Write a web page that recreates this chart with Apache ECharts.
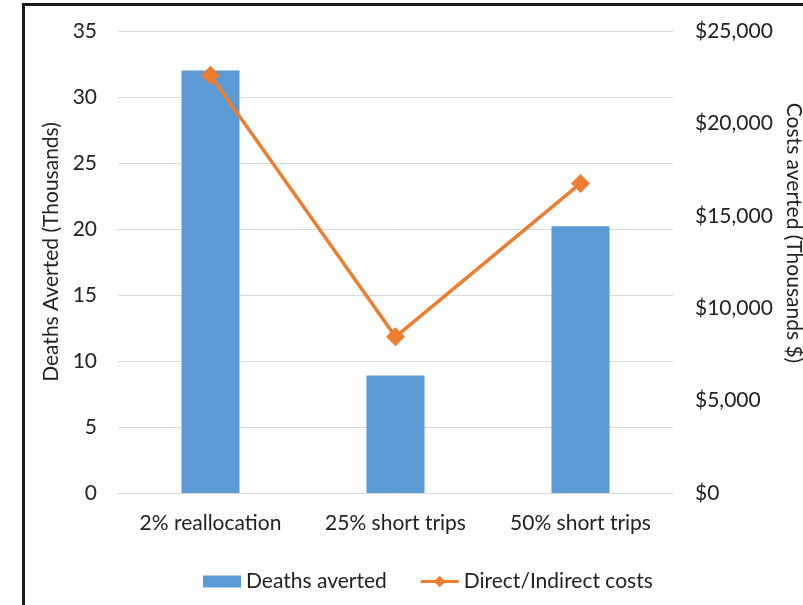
<!DOCTYPE html>
<html>
<head>
<meta charset="utf-8">
<script src="https://cdn.jsdelivr.net/npm/echarts@6/dist/echarts.min.js"></script>
<style>
  html, body { margin: 0; padding: 0; background: #fff; }
  #chart { width: 803px; height: 605px; }
</style>
</head>
<body>
<div id="chart"></div>
<script>
  // 数据
  const categories = ["2% reallocation", "25% short trips", "50% short trips"];
  const deathsAverted = [32, 8.9, 20.2];
  const costsAverted = [22600, 8450, 16750];

  const fontFamily = "Lato, 'Open Sans', sans-serif";
  const textColor = "#222";
  // 图例里折线+菱形的图标
  const lineDiamondIcon =
    "path://M0,4.5L15.5,4.5L20,0L24.5,4.5L40,4.5L40,7.5L24.5,7.5L20,12L15.5,7.5L0,7.5Z";

  const myChart = echarts.init(document.getElementById("chart"));
  const options = {
    animation: false,
    textStyle: { fontFamily: fontFamily },
    grid: { left: 118, right: 130, top: 31, bottom: 112, outerBoundsMode: "none" },
    // 外框
    graphic: [
      {
        type: "rect",
        shape: { x: 23.5, y: 4.5, width: 900, height: 800 },
        style: { fill: "none", stroke: "#1a1a1a", lineWidth: 3 },
        silent: true,
      },
    ],
    legend: {
      left: 198,
      top: 566,
      itemWidth: 38,
      itemHeight: 12,
      itemGap: 34,
      textStyle: { fontSize: 21, color: textColor, fontFamily: fontFamily },
      data: [
        { name: "Deaths averted", icon: "rect" },
        { name: "Direct/Indirect costs", icon: lineDiamondIcon },
      ],
    },
    xAxis: {
      type: "category",
      data: categories,
      axisTick: { show: false },
      axisLine: { lineStyle: { color: "#d9d9d9", width: 1 } },
      axisLabel: { fontSize: 21, color: textColor, margin: 20 },
    },
    yAxis: [
      {
        type: "value",
        min: 0,
        max: 35,
        interval: 5,
        name: "Deaths Averted (Thousands)",
        nameLocation: "middle",
        nameGap: 56,
        nameTextStyle: { fontSize: 21, color: textColor, padding: [0, 0, 0, 20] },
        axisLabel: { fontSize: 21, color: textColor, margin: 21 },
        splitLine: { lineStyle: { color: "#d9d9d9", width: 1 } },
      },
      {
        type: "value",
        min: 0,
        max: 25000,
        interval: 5000,
        position: "right",
        name: "Costs averted (Thousands $)",
        nameLocation: "middle",
        nameGap: 108,
        nameRotate: -90,
        nameTextStyle: { fontSize: 21, color: textColor, padding: [0, 58, 0, 0] },
        axisLabel: {
          fontSize: 21,
          color: textColor,
          margin: 22,
          formatter: (v) => "$" + v.toLocaleString("en-US"),
        },
        splitLine: { show: false },
      },
    ],
    series: [
      {
        name: "Deaths averted",
        type: "bar",
        data: deathsAverted,
        barWidth: 58,
        itemStyle: { color: "#5b9bd5" },
      },
      {
        name: "Direct/Indirect costs",
        type: "line",
        yAxisIndex: 1,
        data: costsAverted,
        symbol: "diamond",
        symbolSize: 19,
        lineStyle: { color: "#ed7d31", width: 3.5 },
        itemStyle: { color: "#ed7d31" },
      },
    ],
  };
  myChart.setOption(options);
</script>
</body>
</html>
